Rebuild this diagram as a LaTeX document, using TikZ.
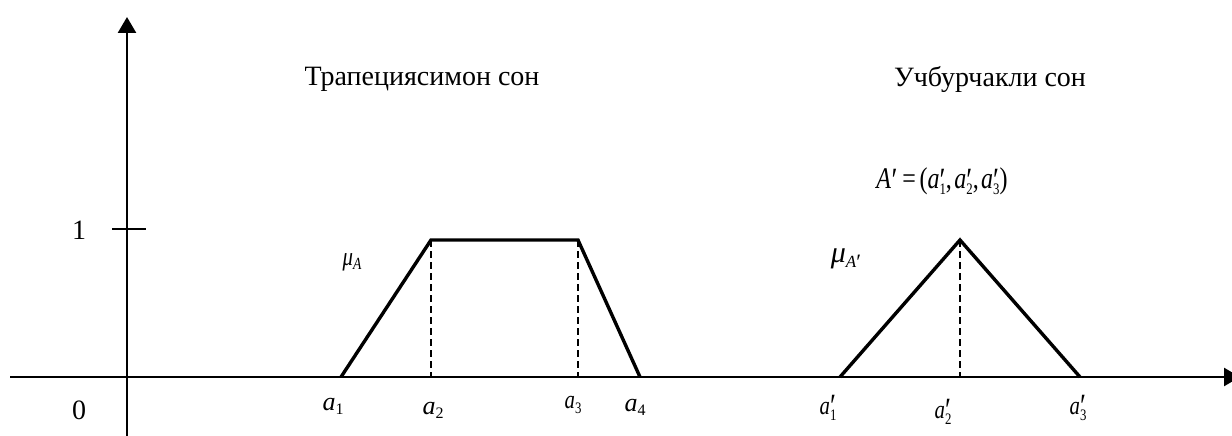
\documentclass[tikz,border=0pt]{standalone}
\usepackage{fontspec}
\setmainfont{Liberation Serif}
\usetikzlibrary{arrows.meta}
\newcommand\pr{{\fontsize{34}{34}\selectfont ′}}
\newcommand\lbA[1]{\textit{a}\raisebox{-0.35ex}{\fontsize{16}{16}\selectfont #1}}
\newcommand\lbP[1]{\textit{a}\makebox[0pt][l]{\raisebox{-0.25ex}{\pr}}\raisebox{-0.45ex}{\fontsize{16}{16}\selectfont #1}}
\newcommand\cond[1]{\scalebox{0.8}[1]{#1}}
\tikzset{
  axis/.style={line width=2.6pt,-{Triangle[length=16pt,width=18pt]}},
  curve/.style={line width=3.4pt,line join=miter},
  guide/.style={line width=1.5pt,dash pattern=on 7pt off 4pt},
  lbl/.style={inner sep=0pt,font=\fontsize{26}{26}\selectfont},
  ttl/.style={inner sep=0pt,font=\fontsize{28}{28}\selectfont},
}
\begin{document}
\begin{tikzpicture}[x=1pt,y=-1pt]
\useasboundingbox (0,0) rectangle (1232,436);
% axes
\coordinate (xs) at (10,377);
\coordinate (xe) at (1240,377);
\coordinate (ys) at (127,440);
\coordinate (ye) at (127,17);
\draw[axis] (xs) -- (xe);
\draw[axis] (ys) -- (ye);
\coordinate (tl) at (112,229);
\coordinate (tr) at (146,229);
\draw[line width=1.8pt] (tl) -- (tr);
\node[ttl] (one) at (79,230) {1};
\node[ttl] (zero) at (79,410) {0};
% trapezoid
\coordinate (t1) at (341,377);
\coordinate (t2) at (431,240);
\coordinate (t3) at (578,240);
\coordinate (t4) at (640,377);
\coordinate (t2b) at (431,377);
\coordinate (t3b) at (578,377);
\draw[curve] (t1) -- (t2) -- (t3) -- (t4);
\draw[guide] (t2) -- (t2b);
\draw[guide] (t3) -- (t3b);
% triangle
\coordinate (r1) at (840,377);
\coordinate (r2) at (960,240);
\coordinate (r3) at (1080,377);
\coordinate (r2b) at (960,377);
\draw[curve] (r1) -- (r2) -- (r3);
\draw[guide] (r2) -- (r2b);
% titles
\node[ttl] (tr1) at (422,79) {Трапециясимон сон};
\node[ttl] (tr2) at (990,79) {Учбурчакли сон};
\node[lbl,font=\fontsize{30}{30}\selectfont] (Ap) at (942,181) {\cond{\textit{A}\hspace{0.02em}\raisebox{-0.25ex}{\pr}\hspace{0.2em}=\hspace{0.15em}(\lbP{1},\hspace{0.1em}\lbP{2},\hspace{0.1em}\lbP{3})}};
\node[lbl] (muA) at (352,262) {\cond{\textit{μ}\raisebox{-0.4ex}{\fontsize{17}{17}\selectfont\textit{A}}}};
\node[lbl,font=\fontsize{30}{30}\selectfont] (muAp) at (846,259) {\textit{μ}\raisebox{-0.4ex}{\fontsize{17}{17}\selectfont\textit{A}\raisebox{-0.2ex}{\fontsize{22}{22}\selectfont ′}}};
% axis labels
\node[lbl] (a1) at (333,406) {\lbA{1}};
\node[lbl] (a2) at (433,410) {\lbA{2}};
\node[lbl] (a3) at (573,405) {\cond{\lbA{3}}};
\node[lbl] (a4) at (635,407) {\lbA{4}};
\node[lbl] (b1) at (828,408) {\cond{\lbP{1}}};
\node[lbl] (b2) at (943,412) {\cond{\lbP{2}}};
\node[lbl] (b3) at (1078,408) {\cond{\lbP{3}}};
\end{tikzpicture}
\end{document}
